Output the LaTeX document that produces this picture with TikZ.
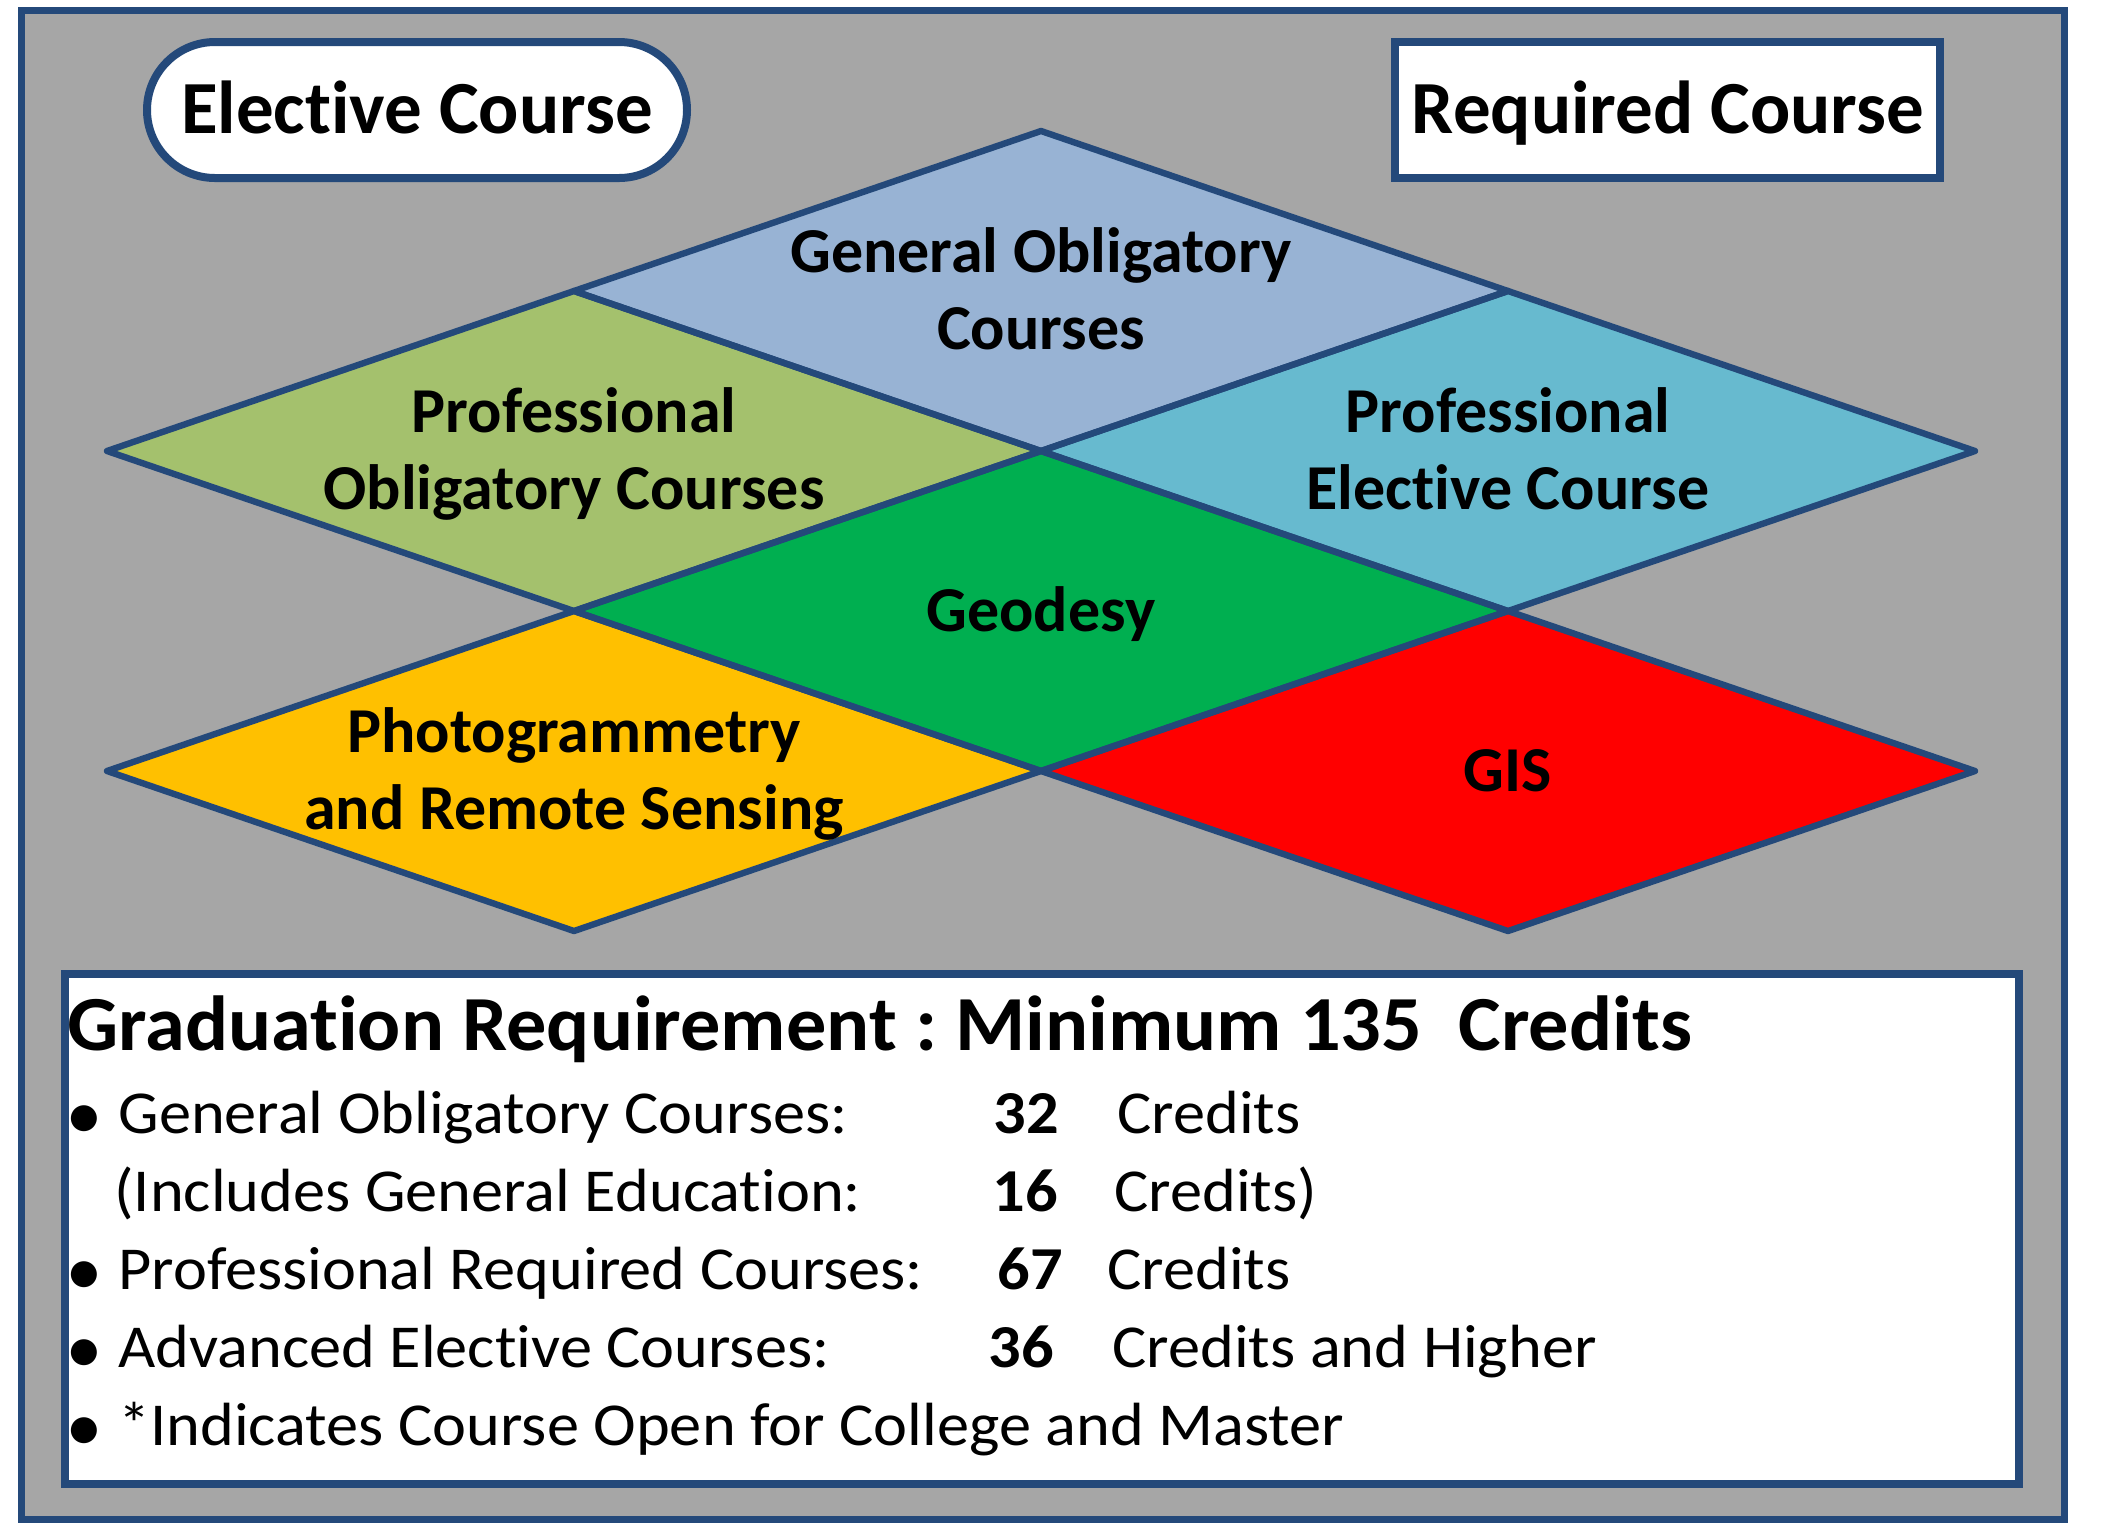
\documentclass[tikz,border=0pt]{standalone}
\usepackage{fontspec}
\setmainfont{Carlito}[Ligatures={NoCommon}]
\newfontfamily\bodyfont{Carlito}[Ligatures={NoCommon}, FakeStretch=1.055]
\newfontfamily\titlefont{Carlito}[Ligatures={NoCommon}, FakeStretch=1.03]
\newfontfamily\bulletfont{DejaVu Sans}
\frenchspacing
\definecolor{bd}{HTML}{24497A}
\definecolor{bggray}{HTML}{A6A6A6}
\definecolor{cgen}{HTML}{98B3D4}
\definecolor{cpo}{HTML}{A4C16D}
\definecolor{cpe}{HTML}{67BACF}
\definecolor{cgeo}{HTML}{00AF50}
\definecolor{cpho}{HTML}{FFC000}
\definecolor{cgis}{HTML}{FF0000}
\tikzset{
  dlab/.style={anchor=base, font=\bfseries\fontsize{32}{38}\selectfont, inner sep=0pt},
  keylab/.style={anchor=base, font=\bfseries\fontsize{37.5}{45}\selectfont, inner sep=0pt},
  btxt/.style={anchor=base west, font=\bodyfont\fontsize{30.5}{37}\selectfont, inner sep=0pt},
  bnum/.style={anchor=base west, font=\bodyfont\bfseries\fontsize{30.5}{37}\selectfont, inner sep=0pt},
  bdot/.style={anchor=base, font=\bulletfont\fontsize{17}{20}\selectfont, inner sep=0pt},
}
\newcommand{\dmdfill}[3]{\fill[#3, shift={(#1,#2)}] (-467,0) -- (0,-160) -- (467,0) -- (0,160) -- cycle;}
\newcommand{\dmddraw}[2]{\draw[bd, line width=3.2pt, line join=round, shift={(#1,#2)}] (-467,0) -- (0,-160) -- (467,0) -- (0,160) -- cycle;}
\begin{document}
\begin{tikzpicture}[x=0.5pt,y=-0.5pt]
\useasboundingbox (0,0) rectangle (2104,1523);
\fill[white] (0,0) rectangle (2104,1523);
% outer frame
\draw[bd, line width=3.5pt, fill=bggray] (21,10) rectangle (2064,1519);
% legend boxes
\draw[bd, line width=4pt, fill=white, rounded corners=34pt] (147,42) rectangle (687,178);
\node[keylab] (elective) at (417,133) {Elective Course};
\draw[bd, line width=3.75pt, fill=white] (1395,42) rectangle (1940,178);
\node[keylab] (required) at (1668,133) {Required Course};
% diamonds
\dmdfill{1041}{291}{cgen}
\dmdfill{574}{451}{cpo}
\dmdfill{1508}{451}{cpe}
\dmdfill{1041}{611}{cgeo}
\dmdfill{574}{771}{cpho}
\dmdfill{1508}{771}{cgis}
\dmddraw{1041}{291}
\dmddraw{574}{451}
\dmddraw{1508}{451}
\dmddraw{1041}{611}
\dmddraw{574}{771}
\dmddraw{1508}{771}
% diamond labels
\node[dlab] (gen1) at (1041,272) {General Obligatory};
\node[dlab] (gen2) at (1041,349) {Courses};
\node[dlab] (po1) at (574,432) {Professional};
\node[dlab] (po2) at (574,509) {Obligatory Courses};
\node[dlab] (pe1) at (1508,432) {Professional};
\node[dlab] (pe2) at (1508,509) {Elective Course};
\node[dlab] (geo) at (1041,631) {Geodesy};
\node[dlab] (ph1) at (574,752) {Photogrammetry};
\node[dlab] (ph2) at (574,829) {and Remote Sensing};
\node[dlab] (gis) at (1508,791) {GIS};
% requirement box
\draw[bd, line width=3.75pt, fill=white] (65,974) rectangle (2019,1484);
\node[anchor=base west, font=\titlefont\bfseries\fontsize{39}{46}\selectfont, inner sep=0pt] (title) at (67,1050) {Graduation Requirement : Minimum 135\ \ Credits};
\node[bdot] (b1) at (84,1127) {●};
\node[btxt] (t1) at (118,1133) {General Obligatory Courses:};
\node[bnum] (n1) at (993,1133) {32};
\node[btxt] (c1) at (1117,1133) {Credits};
\node[btxt] (t2) at (114,1211) {(Includes General Education:};
\node[bnum] (n2) at (992,1211) {16};
\node[btxt] (c2) at (1114,1211) {Credits)};
\node[bdot] (b3) at (84,1283) {●};
\node[btxt] (t3) at (118,1289) {Professional Required Courses:};
\node[bnum] (n3) at (997,1289) {67};
\node[btxt] (c3) at (1107,1289) {Credits};
\node[bdot] (b4) at (84,1361) {●};
\node[btxt] (t4) at (118,1367) {Advanced Elective Courses:};
\node[bnum] (n4) at (988,1367) {36};
\node[btxt] (c4) at (1112,1367) {Credits and Higher};
\node[bdot] (b5) at (84,1439) {●};
\node[btxt] (t5) at (118,1445) {*Indicates Course Open for College and Master};
\end{tikzpicture}
\end{document}
